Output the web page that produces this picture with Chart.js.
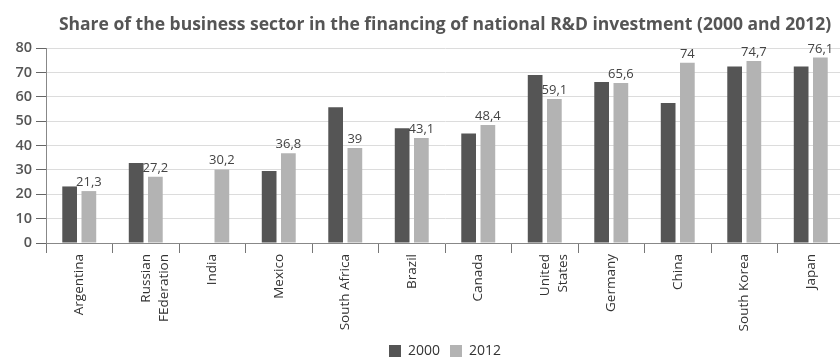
<!DOCTYPE html>
<html>
<head>
<meta charset="utf-8">
<script src="https://cdn.jsdelivr.net/npm/chart.js@4/dist/chart.umd.min.js"></script>
<style>
  html, body { margin: 0; padding: 0; background: #fff; }
  #wrap { width: 840px; height: 357px; overflow: hidden; }
</style>
</head>
<body>
<div id="wrap"><canvas id="c" width="844" height="368"></canvas></div>
<script>
const categories = [
  'Argentina', ['Russian', 'FEderation'], 'India', 'Mexico', 'South Africa', 'Brazil',
  'Canada', ['United', 'States'], 'Germany', 'China', 'South Korea', 'Japan'
];
const values2000 = [23.2, 32.8, null, 29.5, 55.7, 47.1, 44.9, 68.9, 66.1, 57.4, 72.4, 72.4];
const values2012 = [21.3, 27.2, 30.2, 36.8, 39, 43.1, 48.4, 59.1, 65.6, 74, 74.7, 76.1];
const seriesNames = ['2000', '2012'];
const yTicks = [0, 10, 20, 30, 40, 50, 60, 70, 80];
const titleText = 'Share of the business sector in the financing of national R&D investment (2000 and 2012)';

const FONT = "'Open Sans', 'Noto Sans', sans-serif";

const valueLabels = {
  id: 'valueLabels',
  afterDatasetsDraw(chart) {
    const ctx = chart.ctx;
    const meta = chart.getDatasetMeta(1);
    const data = chart.data.datasets[1].data;
    ctx.save();
    ctx.font = '13px ' + FONT;
    ctx.fillStyle = '#444';
    ctx.textAlign = 'center';
    ctx.textBaseline = 'alphabetic';
    meta.data.forEach((bar, i) => {
      const v = data[i];
      if (v === null || v === undefined) return;
      ctx.fillText(String(v).replace('.', ','), bar.x, bar.y - 5);
    });
    ctx.restore();
  }
};

new Chart(document.getElementById('c'), {
  type: 'bar',
  data: {
    labels: categories,
    datasets: [
      { label: seriesNames[0], data: values2000, backgroundColor: '#555555', borderWidth: 0 },
      { label: seriesNames[1], data: values2012, backgroundColor: '#b3b3b3', borderWidth: 0 }
    ]
  },
  options: {
    responsive: false,
    animation: false,
    devicePixelRatio: 1,
    layout: { padding: { left: 0, right: 0, top: 0, bottom: 0 } },
    datasets: { bar: { categoryPercentage: 0.578, barPercentage: 0.766 } },
    plugins: {
      title: {
        display: true,
        text: titleText,
        fullSize: false,
        color: '#555',
        font: { family: FONT, size: 17.5, weight: 'bold' },
        padding: { top: 15, bottom: 12 }
      },
      legend: {
        position: 'bottom',
        fullSize: false,
        labels: {
          color: '#333',
          font: { family: FONT, size: 14 },
          boxWidth: 12,
          boxHeight: 12,
          padding: 10
        }
      },
      tooltip: { enabled: false }
    },
    scales: {
      x: {
        grid: { offset: true, drawOnChartArea: false, tickLength: 10, color: '#777' },
        border: { color: '#888' },
        ticks: {
          color: '#333',
          font: { family: FONT, size: 13.5, lineHeight: 1.4 },
          minRotation: 90, maxRotation: 90, autoSkip: false, padding: 1
        },
        afterFit(scale) { scale.height = 91; }
      },
      y: {
        min: 0, max: 80,
        afterBuildTicks(scale) { scale.ticks = yTicks.map(v => ({ value: v })); },
        grid: { color: '#dcdcdc', tickColor: '#666', tickLength: 10 },
        border: { color: '#888' },
        ticks: {
          color: '#555',
          font: { family: FONT, size: 14.5, weight: '600' },
          padding: 4
        },
        afterFit(scale) { scale.width = 46; }
      }
    }
  },
  plugins: [valueLabels]
});
</script>
</body>
</html>
